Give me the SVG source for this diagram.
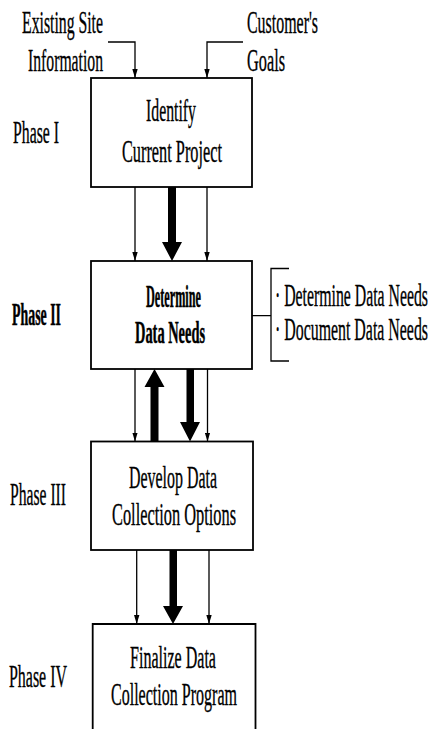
<svg xmlns="http://www.w3.org/2000/svg" width="435" height="729" viewBox="0 0 435 729">
<style>
.bg{fill:#fff}
.box{fill:#fff;stroke:#000;stroke-width:1.8}
.t{font-family:"Liberation Serif","Times New Roman",serif;font-size:31px;fill:#000;stroke:#000;stroke-width:0.35}
.b{font-weight:bold;stroke-width:0.5}
.thin{fill:none;stroke:#000;stroke-width:1.3}
.thick{fill:#000;stroke:none}
</style>
<defs>
<marker id="ah" viewBox="0 0 10 6" refX="10" refY="3" markerWidth="9" markerHeight="6" markerUnits="userSpaceOnUse" orient="auto">
<path d="M0,0 L10,3 L0,6 z" fill="#000"/>
</marker>
</defs>
<rect class="bg" width="435" height="729"/>

<g id="labels">
<text class="t" x="22" y="33" textLength="81" lengthAdjust="spacingAndGlyphs">Existing Site</text>
<text class="t" x="28" y="71" textLength="75" lengthAdjust="spacingAndGlyphs">Information</text>
<text class="t" x="247" y="33" textLength="71" lengthAdjust="spacingAndGlyphs">Customer's</text>
<text class="t" x="247" y="71" textLength="38" lengthAdjust="spacingAndGlyphs">Goals</text>
<text class="t" x="13" y="143" textLength="46" lengthAdjust="spacingAndGlyphs">Phase I</text>
<text class="t b" x="12" y="325" textLength="49" lengthAdjust="spacingAndGlyphs">Phase II</text>
<text class="t" x="10" y="505" textLength="56" lengthAdjust="spacingAndGlyphs">Phase III</text>
<text class="t" x="9" y="687" textLength="58" lengthAdjust="spacingAndGlyphs">Phase IV</text>
</g>

<g id="node1">
<rect class="box" x="91" y="78" width="161" height="109"/>
<text class="t" x="146" y="121" textLength="50" lengthAdjust="spacingAndGlyphs">Identify</text>
<text class="t" x="122" y="162" textLength="100" lengthAdjust="spacingAndGlyphs">Current Project</text>
</g>

<g id="node2">
<rect class="box" x="91" y="261" width="161" height="108"/>
<text class="t b" x="146" y="307" textLength="55" lengthAdjust="spacingAndGlyphs">Determine</text>
<text class="t b" x="135" y="343" textLength="70" lengthAdjust="spacingAndGlyphs">Data Needs</text>
</g>

<g id="node2-detail">
<path class="thin" d="M252,315.7 H271 M289,268.5 H271 V361 H289"/>
<text class="t" x="428" y="306" text-anchor="end" textLength="153" lengthAdjust="spacingAndGlyphs">· Determine Data Needs</text>
<text class="t" x="428" y="340" text-anchor="end" textLength="153" lengthAdjust="spacingAndGlyphs">· Document Data Needs</text>
</g>

<g id="node3">
<rect class="box" x="91" y="441.5" width="162" height="108.5"/>
<text class="t" x="129" y="488" textLength="88" lengthAdjust="spacingAndGlyphs">Develop Data</text>
<text class="t" x="112" y="525" textLength="124" lengthAdjust="spacingAndGlyphs">Collection Options</text>
</g>

<g id="node4">
<path class="box" d="M92.7,740 V624 H255.5 V740"/>
<text class="t" x="130" y="668" textLength="86" lengthAdjust="spacingAndGlyphs">Finalize Data</text>
<text class="t" x="111" y="705" textLength="126" lengthAdjust="spacingAndGlyphs">Collection Program</text>
</g>

<g id="connectors">
<polyline class="thin" points="108,42 135,42 135,78" marker-end="url(#ah)"/>
<polyline class="thin" points="243,42 207,42 207,78" marker-end="url(#ah)"/>

<line class="thin" x1="135" y1="187" x2="135" y2="261" marker-end="url(#ah)"/>
<line class="thin" x1="207" y1="187" x2="207" y2="261" marker-end="url(#ah)"/>
<polygon class="thick" points="168,187 176,187 176,242 182,242 172,261 162,242 168,242"/>

<line class="thin" x1="135" y1="369" x2="135" y2="441.5" marker-end="url(#ah)"/>
<line class="thin" x1="207.5" y1="369" x2="207.5" y2="441.5" marker-end="url(#ah)"/>
<polygon class="thick" points="150.5,441.5 158.5,441.5 158.5,387 164.5,387 154.5,369 144.5,387 150.5,387"/>
<polygon class="thick" points="186.5,369 194,369 194,422 200,422 190,441.5 180,422 186.5,422"/>

<line class="thin" x1="136.7" y1="550" x2="136.7" y2="624" marker-end="url(#ah)"/>
<line class="thin" x1="209" y1="550" x2="209" y2="624" marker-end="url(#ah)"/>
<polygon class="thick" points="169.5,550 177,550 177,606 183,606 173,624 163,606 169.5,606"/>
</g>
</svg>
